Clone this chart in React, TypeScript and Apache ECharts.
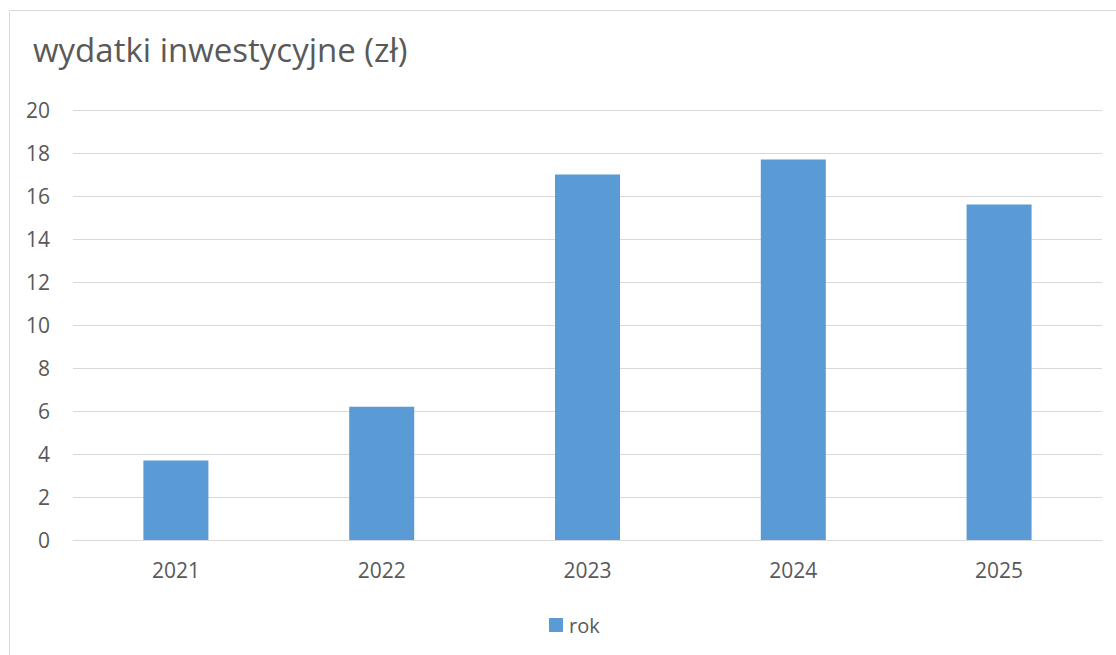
import React, { useEffect, useRef } from "react";
import * as echarts from "echarts";

const categories = ["2021", "2022", "2023", "2024", "2025"];
const values = [3.7, 6.2, 17.0, 17.7, 15.6];
const seriesName = "rok";
const titleText = "wydatki inwestycyjne (zł)";

export default function App() {
  const ref = useRef<HTMLDivElement>(null);
  useEffect(() => {
    if (!ref.current) return;
    const chart = echarts.init(ref.current, undefined, { renderer: "svg" });
    const font = "'Open Sans', sans-serif";
    chart.setOption({
      animation: false,
      backgroundColor: "#ffffff",
      title: {
        text: titleText,
        left: 28,
        top: 28,
        textStyle: { fontFamily: font, fontSize: 33, fontWeight: "normal", color: "#595959" },
      },
      graphic: [
        {
          type: "rect",
          shape: { x: 9.5, y: 10.5, width: 1300, height: 1000 },
          style: { fill: "none", stroke: "#d9d9d9", lineWidth: 1 },
          silent: true,
        },
      ],
      legend: {
        bottom: 15,
        left: 544,
        itemWidth: 14,
        itemHeight: 14,
        itemGap: 10,
        icon: "rect",
        textStyle: { fontFamily: font, fontSize: 20, color: "#595959", padding: [0, 0, 0, 1] },
        data: [seriesName],
      },
      grid: { left: 73, right: 14, top: 110, bottom: 115, containLabel: false },
      xAxis: {
        type: "category",
        data: categories,
        axisLine: { show: true, lineStyle: { color: "#d9d9d9", width: 1 } },
        axisTick: { show: false },
        axisLabel: { fontFamily: font, fontSize: 21, color: "#595959", margin: 19 },
      },
      yAxis: {
        type: "value",
        min: 0,
        max: 20,
        interval: 2,
        axisLine: { show: false },
        axisTick: { show: false },
        splitLine: { lineStyle: { color: "#d9d9d9", width: 1 } },
        axisLabel: { fontFamily: font, fontSize: 21, color: "#595959", margin: 23 },
      },
      series: [
        {
          name: seriesName,
          type: "bar",
          data: values,
          barWidth: 65,
          itemStyle: { color: "#5b9bd5" },
        },
      ],
    });
    return () => chart.dispose();
  }, []);
  return (
    <div
      ref={ref}
      style={{ position: "fixed", left: 0, top: 0, width: 1116, height: 655 }}
    />
  );
}
